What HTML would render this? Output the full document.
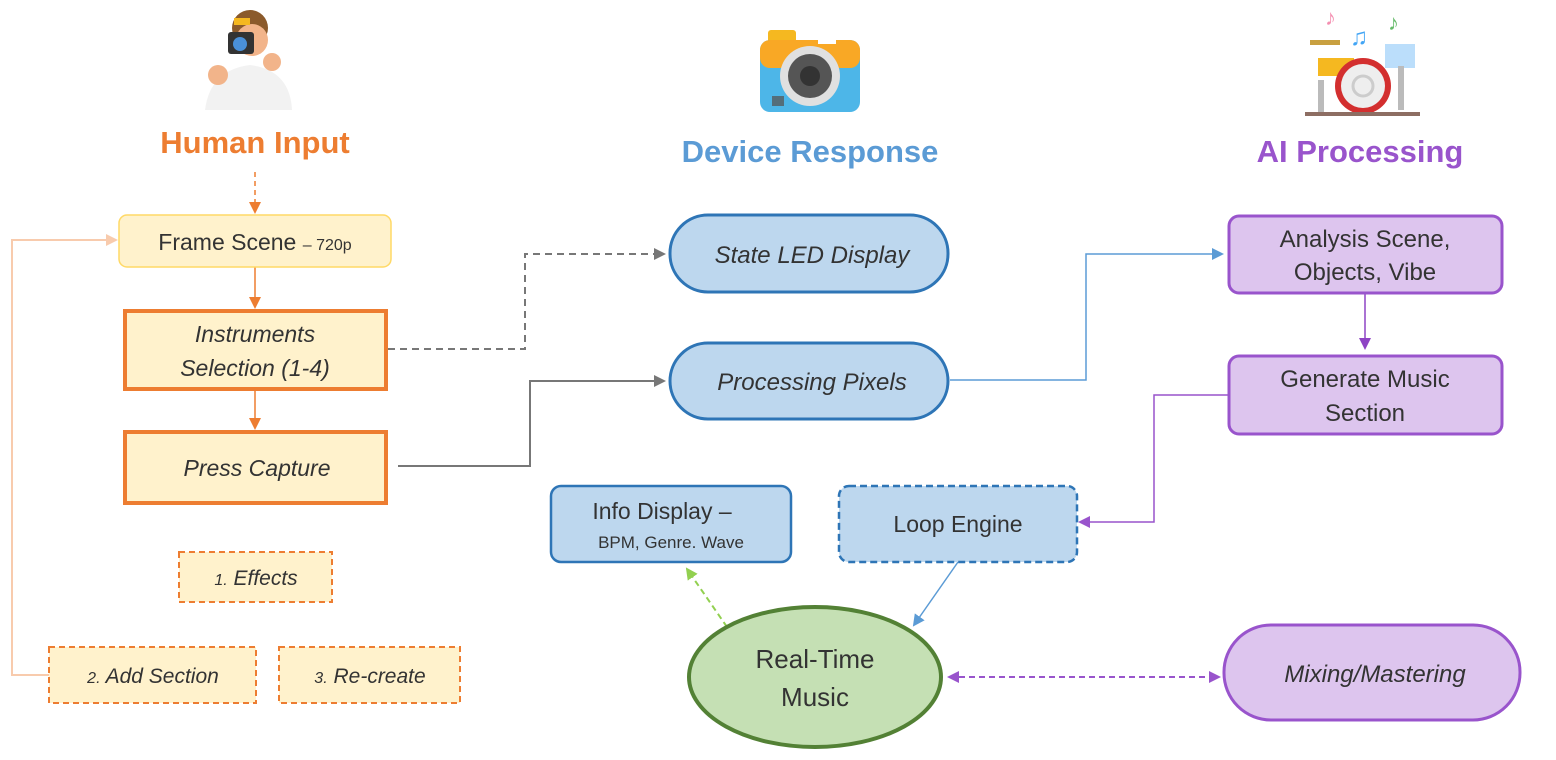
<!DOCTYPE html>
<html><head><meta charset="utf-8"><style>body{margin:0;background:#fff}svg{display:block}text{font-family:"Liberation Sans",sans-serif;fill:#333}</style></head><body>
<svg width="1556" height="760" viewBox="0 0 1556 760" xmlns="http://www.w3.org/2000/svg">
<defs>
<marker id="ao" markerWidth="12" markerHeight="12" refX="10" refY="6" orient="auto" markerUnits="userSpaceOnUse"><path d="M0,0L12,6L0,12z" fill="#ED7D31"/></marker>
<marker id="ap" markerWidth="12" markerHeight="12" refX="10" refY="6" orient="auto" markerUnits="userSpaceOnUse"><path d="M0,0L12,6L0,12z" fill="#F8CBAD"/></marker>
<marker id="ag" markerWidth="12" markerHeight="12" refX="10" refY="6" orient="auto" markerUnits="userSpaceOnUse"><path d="M0,0L12,6L0,12z" fill="#777"/></marker>
<marker id="ab" markerWidth="12" markerHeight="12" refX="10" refY="6" orient="auto" markerUnits="userSpaceOnUse"><path d="M0,0L12,6L0,12z" fill="#5B9BD5"/></marker>
<marker id="au" markerWidth="12" markerHeight="12" refX="10" refY="6" orient="auto" markerUnits="userSpaceOnUse"><path d="M0,0L12,6L0,12z" fill="#8E44C4"/></marker>
<marker id="au2" markerWidth="12" markerHeight="12" refX="2" refY="6" orient="auto" markerUnits="userSpaceOnUse"><path d="M12,0L0,6L12,12z" fill="#9954CC"/></marker>
<marker id="aue" markerWidth="12" markerHeight="12" refX="10" refY="6" orient="auto" markerUnits="userSpaceOnUse"><path d="M0,0L12,6L0,12z" fill="#9954CC"/></marker>
<marker id="agr" markerWidth="12" markerHeight="12" refX="10" refY="6" orient="auto" markerUnits="userSpaceOnUse"><path d="M0,0L12,6L0,12z" fill="#92D050"/></marker>
</defs>
<g>
<circle cx="250" cy="28" r="18" fill="#8B5A2B"/><circle cx="252" cy="40" r="16" fill="#F2B48A"/>
<path d="M205,110 Q210,70 250,65 Q290,70 292,110z" fill="#F2F2F2"/>
<rect x="228" y="32" width="26" height="22" rx="3" fill="#333"/><circle cx="240" cy="44" r="7" fill="#4A90D9"/>
<rect x="234" y="18" width="16" height="7" fill="#F5B820"/>
<circle cx="218" cy="75" r="10" fill="#F2B48A"/><circle cx="272" cy="62" r="9" fill="#F2B48A"/>
</g>
<g>
<rect x="768" y="30" width="28" height="15" rx="3" fill="#F5B820"/>
<rect x="760" y="40" width="100" height="72" rx="10" fill="#4DB6E8"/>
<rect x="760" y="40" width="100" height="28" rx="10" fill="#F9A825"/>
<circle cx="810" cy="76" r="30" fill="#E0E0E0"/><circle cx="810" cy="76" r="22" fill="#555"/><circle cx="810" cy="76" r="10" fill="#333"/>
<rect x="818" y="36" width="18" height="8" fill="#fff"/>
<rect x="772" y="96" width="12" height="10" fill="#546E7A"/>
</g>
<g>
<rect x="1385" y="44" width="30" height="24" fill="#BBDEFB"/><rect x="1398" y="66" width="6" height="44" fill="#bbb"/>
<rect x="1318" y="58" width="36" height="18" fill="#F5B820"/><rect x="1310" y="40" width="30" height="5" fill="#C8A040"/>
<rect x="1318" y="80" width="6" height="32" fill="#bbb"/>
<circle cx="1363" cy="86" r="28" fill="#D32F2F"/><circle cx="1363" cy="86" r="22" fill="#eee"/><circle cx="1363" cy="86" r="10" fill="none" stroke="#ccc" stroke-width="3"/>
<rect x="1305" y="112" width="115" height="4" fill="#8D6E63"/>
<text x="1325" y="25" font-size="22" style="fill:#F48FB1">♪</text><text x="1350" y="45" font-size="24" style="fill:#42A5F5">♫</text><text x="1388" y="30" font-size="22" style="fill:#66BB6A">♪</text>
</g>
<text x="255" y="153" font-size="31" font-weight="bold" text-anchor="middle" style="fill:#ED7D31">Human Input</text>
<text x="810" y="162" font-size="31" font-weight="bold" text-anchor="middle" style="fill:#5B9BD5">Device Response</text>
<text x="1360" y="162" font-size="31" font-weight="bold" text-anchor="middle" style="fill:#9954CC">AI Processing</text>
<line x1="255" y1="172" x2="255" y2="212" stroke="#ED7D31" stroke-width="1.5" stroke-dasharray="5,4" marker-end="url(#ao)"/>
<line x1="255" y1="267" x2="255" y2="307" stroke="#ED7D31" stroke-width="1.5" marker-end="url(#ao)"/>
<line x1="255" y1="390" x2="255" y2="428" stroke="#ED7D31" stroke-width="1.5" marker-end="url(#ao)"/>
<polyline points="49,675 12,675 12,240 116,240" fill="none" stroke="#F8CBAD" stroke-width="2" marker-end="url(#ap)"/>
<polyline points="388,349 525,349 525,254 664,254" fill="none" stroke="#777" stroke-width="2" stroke-dasharray="7,5" marker-end="url(#ag)"/>
<polyline points="398,466 530,466 530,381 664,381" fill="none" stroke="#777" stroke-width="2" marker-end="url(#ag)"/>
<polyline points="950,380 1086,380 1086,254 1222,254" fill="none" stroke="#5B9BD5" stroke-width="1.5" marker-end="url(#ab)"/>
<line x1="1365" y1="293" x2="1365" y2="348" stroke="#8E44C4" stroke-width="1.5" marker-end="url(#au)"/>
<polyline points="1229,395 1154,395 1154,522 1080,522" fill="none" stroke="#9954CC" stroke-width="1.5" marker-end="url(#aue)"/>
<line x1="958" y1="562" x2="914" y2="625" stroke="#5B9BD5" stroke-width="1.5" marker-end="url(#ab)"/>
<line x1="727" y1="627" x2="687" y2="569" stroke="#92D050" stroke-width="2" stroke-dasharray="6,4" marker-end="url(#agr)"/>
<line x1="949" y1="677" x2="1219" y2="677" stroke="#9954CC" stroke-width="2" stroke-dasharray="6,4" marker-start="url(#au2)" marker-end="url(#aue)"/>
<rect x="119" y="215" width="272" height="52" rx="8" fill="#FFF2CC" stroke="#FFD966" stroke-width="1.5"/>
<text x="255" y="250" font-size="23" text-anchor="middle">Frame Scene <tspan font-size="16">– 720p</tspan></text>
<rect x="125" y="311" width="261" height="78" fill="#FFF2CC" stroke="#ED7D31" stroke-width="4"/>
<text x="255" y="342" font-size="23" font-style="italic" text-anchor="middle">Instruments</text>
<text x="255" y="376" font-size="23" font-style="italic" text-anchor="middle">Selection (1-4)</text>
<rect x="125" y="432" width="261" height="71" fill="#FFF2CC" stroke="#ED7D31" stroke-width="4"/>
<text x="257" y="476" font-size="23" font-style="italic" text-anchor="middle">Press Capture</text>
<rect x="179" y="552" width="153" height="50" fill="#FFF2CC" stroke="#ED7D31" stroke-width="2" stroke-dasharray="6,4"/>
<text x="256" y="585" font-size="21" font-style="italic" text-anchor="middle"><tspan font-size="16">1.</tspan> Effects</text>
<rect x="49" y="647" width="207" height="56" fill="#FFF2CC" stroke="#ED7D31" stroke-width="2" stroke-dasharray="6,4"/>
<text x="153" y="683" font-size="21" font-style="italic" text-anchor="middle"><tspan font-size="16">2.</tspan> Add Section</text>
<rect x="279" y="647" width="181" height="56" fill="#FFF2CC" stroke="#ED7D31" stroke-width="2" stroke-dasharray="6,4"/>
<text x="370" y="683" font-size="21" font-style="italic" text-anchor="middle"><tspan font-size="16">3.</tspan> Re-create</text>
<rect x="670" y="215" width="278" height="77" rx="38" fill="#BDD7EE" stroke="#2E75B6" stroke-width="3"/>
<text x="812" y="263" font-size="24" font-style="italic" text-anchor="middle">State LED Display</text>
<rect x="670" y="343" width="278" height="76" rx="38" fill="#BDD7EE" stroke="#2E75B6" stroke-width="3"/>
<text x="812" y="390" font-size="24" font-style="italic" text-anchor="middle">Processing Pixels</text>
<rect x="551" y="486" width="240" height="76" rx="10" fill="#BDD7EE" stroke="#2E75B6" stroke-width="2.5"/>
<text x="662" y="519" font-size="23" text-anchor="middle">Info Display –</text>
<text x="671" y="548" font-size="17" text-anchor="middle">BPM, Genre. Wave</text>
<rect x="839" y="486" width="238" height="76" rx="10" fill="#BDD7EE" stroke="#2E75B6" stroke-width="2.5" stroke-dasharray="7,4"/>
<text x="958" y="532" font-size="23" text-anchor="middle">Loop Engine</text>
<ellipse cx="815" cy="677" rx="126" ry="70" fill="#C5E0B4" stroke="#538135" stroke-width="4"/>
<text x="815" y="668" font-size="26" text-anchor="middle">Real-Time</text>
<text x="815" y="706" font-size="26" text-anchor="middle">Music</text>
<rect x="1229" y="216" width="273" height="77" rx="10" fill="#DDC5EE" stroke="#9954CC" stroke-width="3"/>
<text x="1365" y="247" font-size="24" text-anchor="middle">Analysis Scene,</text>
<text x="1365" y="280" font-size="24" text-anchor="middle">Objects, Vibe</text>
<rect x="1229" y="356" width="273" height="78" rx="10" fill="#DDC5EE" stroke="#9954CC" stroke-width="3"/>
<text x="1365" y="387" font-size="24" text-anchor="middle">Generate Music</text>
<text x="1365" y="421" font-size="24" text-anchor="middle">Section</text>
<rect x="1224" y="625" width="296" height="95" rx="47" fill="#DDC5EE" stroke="#9954CC" stroke-width="3"/>
<text x="1375" y="682" font-size="24" font-style="italic" text-anchor="middle">Mixing/Mastering</text>
</svg>
</body></html>
